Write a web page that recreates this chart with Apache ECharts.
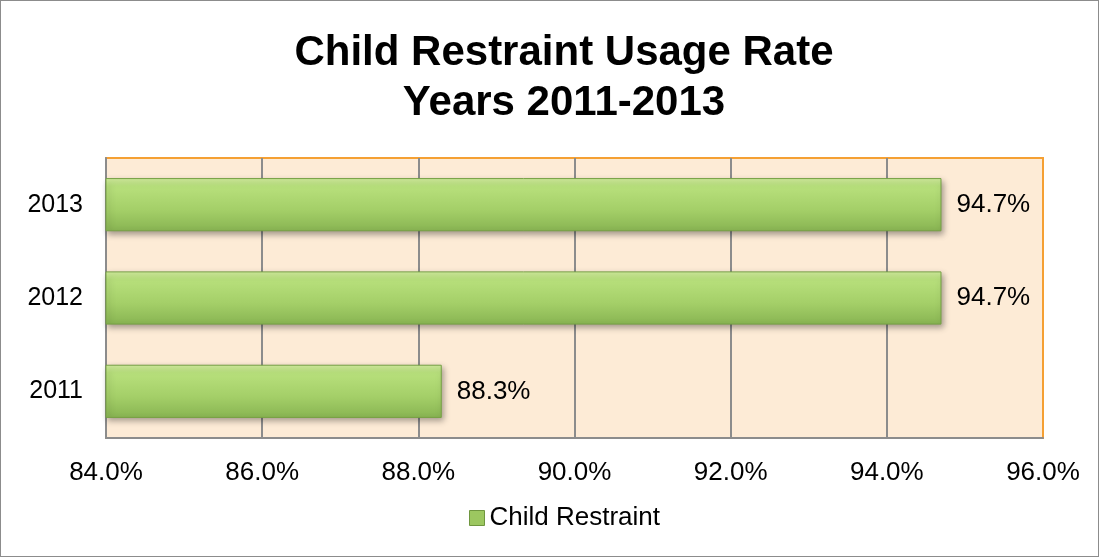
<!DOCTYPE html>
<html><head><meta charset="utf-8">
<script src="https://cdn.jsdelivr.net/npm/echarts@6/dist/echarts.min.js"></script>
<style>html,body{margin:0;padding:0;background:#fff}#c{width:1099px;height:557px;box-sizing:border-box;border:1px solid #8c8c8c}</style>
</head><body><div id="c"></div>
<script>
const categories = ['2011', '2012', '2013'];
const seriesName = 'Child Restraint';
const values = [88.3, 94.7, 94.7];
const titleLines = ['Child Restraint Usage Rate', 'Years 2011-2013'];

const chart = echarts.init(document.getElementById('c'));
const barGrad = new echarts.graphic.LinearGradient(0, 0, 0, 1, [
  {offset: 0, color: '#d3ef9f'},
  {offset: 0.15, color: '#b8e07c'},
  {offset: 0.6, color: '#a4cf68'},
  {offset: 1, color: '#88b452'}
]);
const FONT = 'Liberation Sans, Arial';
chart.setOption({
  animation: false,
  title: {
    text: titleLines.join('\n'), left: 558, textAlign: 'center', top: 22,
    textStyle: {fontFamily: FONT, fontWeight: 'bold', fontSize: 42, color: '#000', lineHeight: 50}
  },
  legend: {
    bottom: 20, left: 463, itemWidth: 15, itemHeight: 15, itemGap: 4,
    textStyle: {fontFamily: FONT, fontSize: 26, color: '#000'},
    data: [{name: seriesName, icon: 'rect', itemStyle: {color: '#9cc760', borderColor: '#6f963f', borderWidth: 1}}]
  },
  grid: {left: 105, right: 55, top: 157, bottom: 118, containLabel: false,
    show: true, backgroundColor: '#fdebd6', borderColor: '#f5a033', borderWidth: 2},
  xAxis: {
    type: 'value', min: 84, max: 96, interval: 2,
    axisLine: {show: true, lineStyle: {color: '#8c8c8c', width: 2}},
    axisTick: {show: false},
    splitLine: {show: true, showMaxLine: false, lineStyle: {color: '#8c8c8c', width: 2}},
    axisLabel: {formatter: v => v.toFixed(1) + '%', fontFamily: FONT, fontSize: 26, color: '#000', margin: 22}
  },
  yAxis: {
    type: 'category', data: categories,
    axisLine: {show: true, lineStyle: {color: '#8c8c8c', width: 2}},
    axisTick: {show: false},
    axisLabel: {fontFamily: FONT, fontSize: 25, color: '#000', margin: 23}
  },
  series: [{
    name: seriesName, type: 'bar', data: values, barWidth: '57%',
    itemStyle: {color: barGrad, borderColor: '#76a044', borderWidth: 1,
      shadowColor: 'rgba(0,0,0,0.35)', shadowBlur: 6, shadowOffsetX: 2, shadowOffsetY: 3},
    label: {show: true, position: 'right', distance: 15, formatter: p => p.value.toFixed(1) + '%',
      fontFamily: FONT, fontSize: 26, color: '#000'}
  }]
});
</script></body></html>
